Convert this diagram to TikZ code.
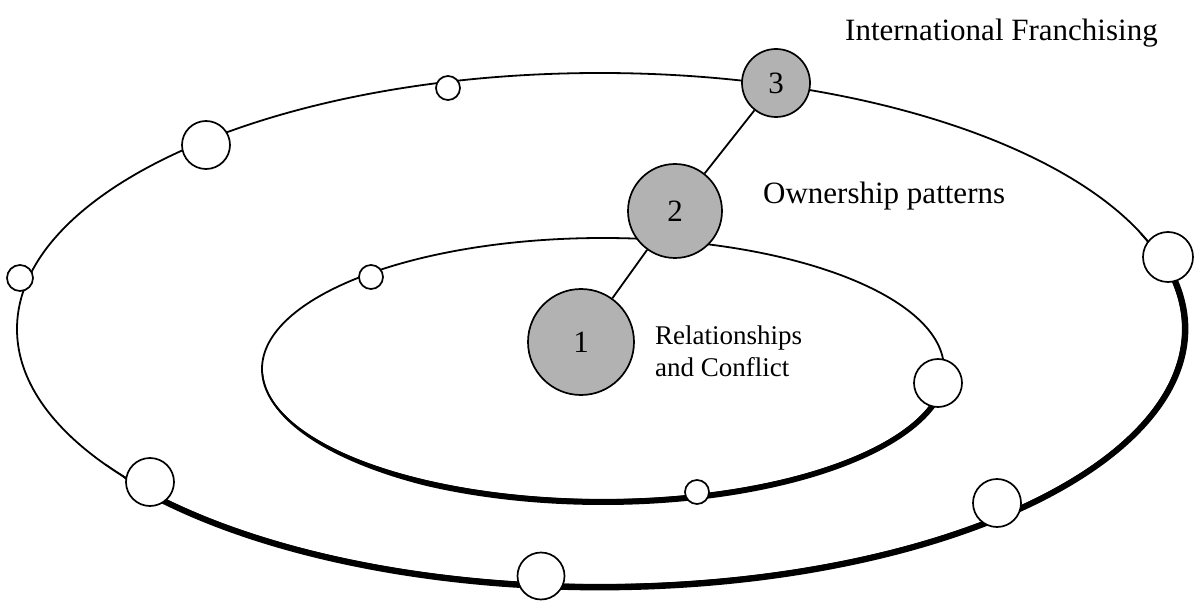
\documentclass[tikz,border=0pt]{standalone}
\usepackage{fontspec}
\setmainfont{Liberation Serif}
\begin{document}
\begin{tikzpicture}[x=1pt,y=-1pt,
  declare function={
    % extra stroke width along the lower part of each ring
    wout(\t)=5.4*min(1,max(0,(\t+20)/8))*min(1,max(0,(146-\t)/6));
    win(\t)=5.0*min(1,max(0,(\t-1)/8))*min(1,max(0,(176-\t)/55));
  },
  ring/.style={draw=black, line width=1.8pt},
  hole/.style={circle, draw=black, line width=1.7pt, fill=white, inner sep=0pt, minimum size=#1},
  ball/.style={circle, draw=black, line width=1.7pt, fill=black!30, inner sep=0pt,
    minimum size=#1, font=\fontsize{31}{31}\selectfont},
  tag/.style={anchor=base west, inner sep=0pt, font=\fontsize{#1}{#1}\selectfont},
  link/.style={draw=black, line width=1.8pt}]
\useasboundingbox (0,0) rectangle (1201,601);

% outer ring: centre (600,329), radii 583 x 256
\path[ring] (600,329) ellipse [x radius=583, y radius=256];
\fill[black] plot[samples=180, domain=-22:148]
    ({600+(583+wout(\x))*cos(\x)}, {329+(256+wout(\x))*sin(\x)})
  -- plot[samples=180, domain=148:-22]
    ({600+582*cos(\x)}, {329+255*sin(\x)}) -- cycle;

% inner ring: centre (603,369), radii 341 x 131
\path[ring] (603,369) ellipse [x radius=341, y radius=131];
\fill[black] plot[samples=180, domain=-2:178]
    ({603+(341+win(\x))*cos(\x)}, {369+(131+win(\x))*sin(\x)})
  -- plot[samples=180, domain=178:-2]
    ({603+340*cos(\x)}, {369+130*sin(\x)}) -- cycle;

% stations on the outer ring
\node[hole=26pt] (o1) at (20,278)   {};
\node[hole=48pt] (o2) at (206,145)  {};
\node[hole=24pt] (o3) at (448,88)   {};
\node[hole=50pt] (o4) at (1168,257) {};
\node[hole=48pt] (o5) at (997,503)  {};
\node[hole=47pt] (o6) at (541,576)  {};
\node[hole=48pt] (o7) at (150,482)  {};

% stations on the inner ring
\node[hole=24pt] (i1) at (371,277) {};
\node[hole=48pt] (i2) at (938,383) {};
\node[hole=24pt] (i3) at (697,492) {};

% the three levels
\node[ball=68pt]  (n3) at (776,83)  {3};
\node[ball=94pt]  (n2) at (675,211) {2};
\node[ball=106pt] (n1) at (581,342) {1};
\draw[link] (n3) -- (n2);
\draw[link] (n2) -- (n1);

% captions
\node[tag=31] (lblintl) at (845,41)  {International Franchising};
\node[tag=31] (lblown)  at (763,204) {Ownership patterns};
\node[tag=27] (lblrel)  at (655,344) {Relationships};
\node[tag=27] (lblcon)  at (655,376) {and Conflict};
\end{tikzpicture}
\end{document}
